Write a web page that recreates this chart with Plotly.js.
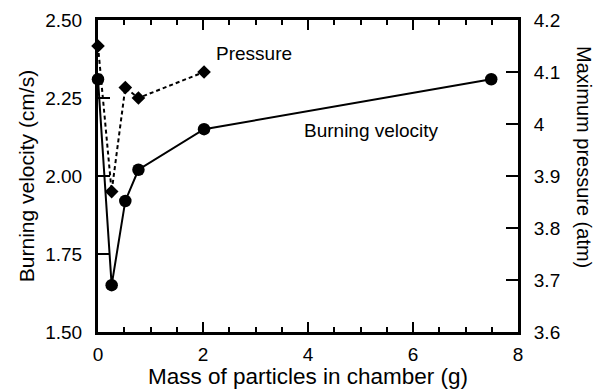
<!DOCTYPE html>
<html>
<head>
<meta charset="utf-8">
<script src="https://cdn.plot.ly/plotly-3.0.1.min.js"></script>
<style>html,body{margin:0;padding:0;background:#fff;}#chart{width:597px;height:389px;}</style>
</head>
<body>
<div id="chart"></div>
<script>
// Data
var massVelocity = [0, 0.26, 0.52, 0.77, 2.02, 7.49];
var burningVelocity = [2.31, 1.65, 1.92, 2.02, 2.15, 2.31];
var massPressure = [0, 0.26, 0.52, 0.77, 2.02];
var maxPressure = [4.15, 3.87, 4.07, 4.05, 4.10];
var xTicks = [0, 2, 4, 6, 8];
var xMinorTicks = [0.5, 1, 1.5, 2.5, 3, 3.5, 4.5, 5, 5.5, 6.5, 7, 7.5];
var yTicks = [1.50, 1.75, 2.00, 2.25, 2.50];
var y2Ticks = [3.6, 3.7, 3.8, 3.9, 4.0, 4.1, 4.2];
var labels = {x: 'Mass of particles in chamber (g)', y: 'Burning velocity (cm/s)', y2: 'Maximum pressure (atm)',
  pressure: 'Pressure', velocity: 'Burning velocity'};

var FONT = '"Liberation Sans", Arial, Helvetica, sans-serif';

var traces = [
  {x: massVelocity, y: burningVelocity, type: 'scatter', mode: 'lines+markers', xaxis: 'x', yaxis: 'y',
   line: {color: '#000', width: 2}, marker: {symbol: 'circle', size: 12.5, color: '#000'},
   cliponaxis: false, showlegend: false, hoverinfo: 'skip'},
  {x: massPressure, y: maxPressure, type: 'scatter', mode: 'lines+markers', xaxis: 'x2', yaxis: 'y2',
   line: {color: '#000', width: 2, dash: '4px,3px'}, marker: {symbol: 'diamond', size: 10.5, color: '#000'},
   cliponaxis: false, showlegend: false, hoverinfo: 'skip'}
];

var xTickStyle = {
  range: [0, 8], tickvals: xTicks,
  showgrid: false, zeroline: false, showline: true, linecolor: '#000', linewidth: 3,
  ticks: 'inside', ticklen: 10, tickwidth: 2, tickcolor: '#000',
  minor: {tickvals: xMinorTicks, ticks: 'inside', ticklen: 5, tickwidth: 2, tickcolor: '#000', showgrid: false}
};

var layout = {
  width: 597, height: 389,
  margin: {l: 98, r: 79, t: 20, b: 57, pad: 0},
  paper_bgcolor: '#fff', plot_bgcolor: '#fff',
  font: {family: FONT, color: '#000', size: 19},
  showlegend: false,
  xaxis: Object.assign({}, xTickStyle, {
    ticktext: xTicks.map(String), tickfont: {size: 19}, ticklabelstandoff: 3,
    title: {text: labels.x, font: {size: 22.5}, standoff: 0}
  }),
  xaxis2: Object.assign({}, xTickStyle, {
    overlaying: 'x', side: 'top', anchor: 'y', matches: 'x', showticklabels: false
  }),
  yaxis: {
    range: [1.5, 2.5], tickvals: yTicks, tickformat: '.2f',
    showgrid: false, zeroline: false, showline: true, linecolor: '#000', linewidth: 3,
    ticks: 'inside', ticklen: 12, tickwidth: 2, tickcolor: '#000',
    tickfont: {size: 19}, ticklabelstandoff: 9,
    title: {text: labels.y, font: {size: 21}, standoff: 5}
  },
  yaxis2: {
    range: [3.6, 4.2], tickvals: y2Ticks, overlaying: 'y', side: 'right', anchor: 'x2',
    showgrid: false, zeroline: false, showline: true, linecolor: '#000', linewidth: 3,
    ticks: 'inside', ticklen: 12, tickwidth: 2, tickcolor: '#000',
    tickfont: {size: 19}, ticklabelstandoff: 9
  },
  annotations: [
    {text: labels.y2, xref: 'paper', yref: 'paper', x: 1.157, y: 0.561, textangle: 90,
     showarrow: false, xanchor: 'center', yanchor: 'middle', font: {size: 20}},
    {text: labels.pressure, xref: 'x', yref: 'y', x: 2.97, y: 2.394,
     showarrow: false, xanchor: 'center', yanchor: 'middle', font: {size: 19}},
    {text: labels.velocity, xref: 'x', yref: 'y', x: 5.2, y: 2.145,
     showarrow: false, xanchor: 'center', yanchor: 'middle', font: {size: 19}}
  ]
};

Plotly.newPlot('chart', traces, layout, {staticPlot: true, displayModeBar: false});
</script>
</body>
</html>
